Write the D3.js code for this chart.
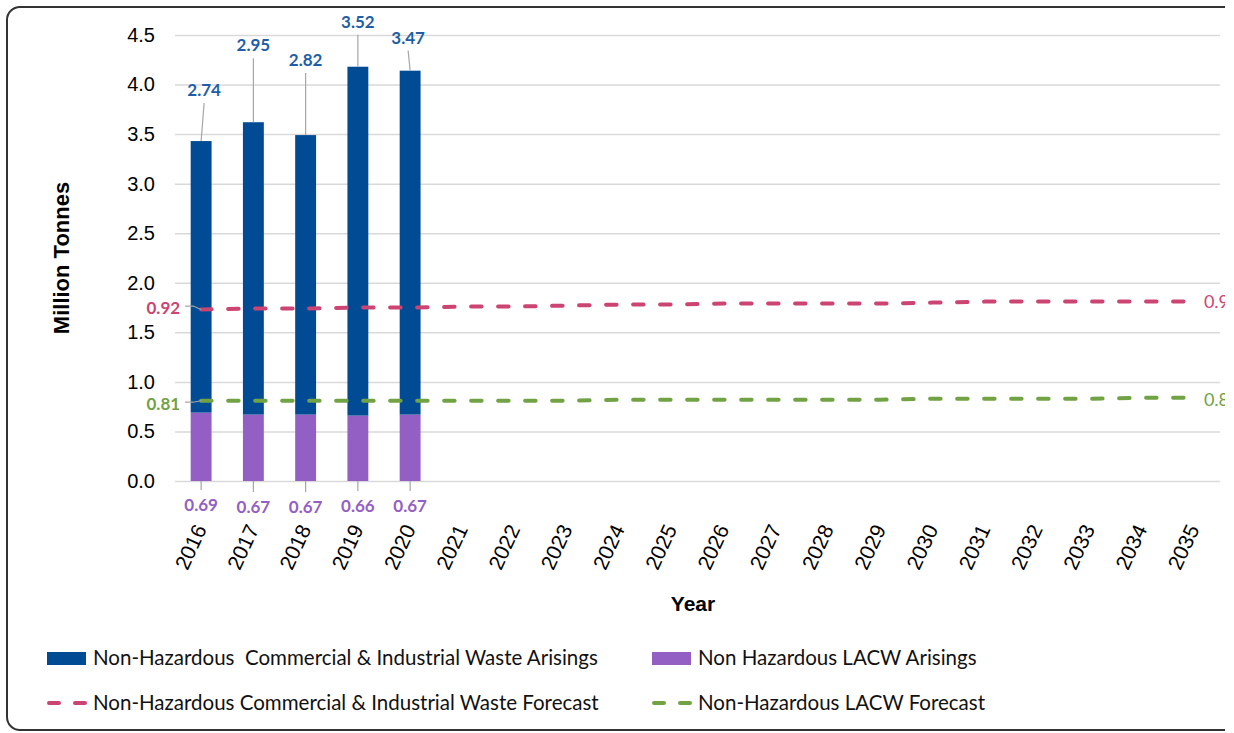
<!DOCTYPE html>
<html>
<head>
<meta charset="utf-8">
<script src="https://cdn.jsdelivr.net/npm/d3@7"></script>
<style>
    body { margin: 0; background: #fff; }
    text.pre { white-space: pre; }
</style>
</head>
<body>
<div id="canvas"></div>
<script>
/* THE DATA */
const years = ["2016", "2017", "2018", "2019", "2020", "2021", "2022", "2023", "2024", "2025",
               "2026", "2027", "2028", "2029", "2030", "2031", "2032", "2033", "2034", "2035"];
const arisingYears = ["2016", "2017", "2018", "2019", "2020"];
const ciArisings = [2.74, 2.95, 2.82, 3.52, 3.47];
const lacwArisings = [0.69, 0.67, 0.67, 0.66, 0.67];
const lacwForecast = [0.81, 0.81, 0.81, 0.81, 0.81, 0.81, 0.81, 0.81, 0.82, 0.82,
                      0.82, 0.82, 0.82, 0.82, 0.83, 0.83, 0.83, 0.83, 0.84, 0.84];
const ciForecast = [0.92, 0.93, 0.93, 0.94, 0.94, 0.95, 0.95, 0.96, 0.96, 0.96,
                    0.97, 0.97, 0.97, 0.97, 0.97, 0.98, 0.98, 0.98, 0.97, 0.97];
const yTicks = [0.0, 0.5, 1.0, 1.5, 2.0, 2.5, 3.0, 3.5, 4.0, 4.5];

/* HAND-PLACED LABEL NUDGES (pixels) */
const ciLabelLift = [51, 77, 75, 45, 33];
const ciLabelShift = [3, 0, 0, 0, -2];
const lacwLabelDrop = [24, 26, 26, 25, 25];


/* CREATE THE SVG CANVAS */
const width = 1225;
const height = 733;

const svg = d3.select("#canvas")
    .append("svg")
    .attr("width", width)
    .attr("height", height);

const blue = "#004b93";
const blueText = "#1e5ea6";
const purple = "#935fc5";
const pink = "#cc4471";
const green = "#71a244";
const grid = "#d9d9d9";
const leader = "#a6a6a6";
const labelFont = "Lato, 'Open Sans', sans-serif";
const axisFont = "'Liberation Sans', Arial, sans-serif";

// rounded frame, runs off the right edge
svg.append("rect")
    .attr("x", 7)
    .attr("y", 7)
    .attr("width", 1300)
    .attr("height", 723)
    .attr("rx", 13)
    .attr("fill", "#fff")
    .attr("stroke", "#333")
    .attr("stroke-width", 2);


/* SCALES AND AXES */
const x = d3.scaleBand()
    .domain(years)
    .range([175, 1220])
    .paddingInner(0.6)
    .paddingOuter(0.3);

const y = d3.scaleLinear()
    .domain([0, 4.5])
    .range([481, 35]);

const cx = d => x(d) + x.bandwidth() / 2;

svg.append("g")
    .attr("transform", "translate(175,0)")
    .call(d3.axisLeft(y)
        .tickValues(yTicks)
        .tickFormat(d3.format(".1f"))
        .tickSize(-1045)
        .tickPadding(20))
    .call(g => g.select(".domain").remove())
    .call(g => g.selectAll("line").attr("stroke", grid).attr("stroke-width", 1.5))
    .call(g => g.selectAll("text")
        .attr("font-family", axisFont)
        .attr("font-size", 20)
        .attr("fill", "#000"));

svg.append("g")
    .attr("transform", "translate(0,481)")
    .call(d3.axisBottom(x).tickSize(0))
    .call(g => g.select(".domain").remove())
    .call(g => g.selectAll("text")
        .attr("font-family", axisFont)
        .attr("font-size", 21)
        .attr("fill", "#000")
        .attr("x", 6)
        .attr("y", 48)
        .attr("dy", 0)
        .attr("text-anchor", "end")
        .attr("transform", "rotate(-65 6 48)"));

svg.append("text")
    .attr("transform", "translate(69,258) rotate(-90)")
    .attr("text-anchor", "middle")
    .attr("font-family", axisFont)
    .attr("font-size", 22)
    .attr("font-weight", "bold")
    .text("Million Tonnes");

svg.append("text")
    .attr("x", 693)
    .attr("y", 611)
    .attr("text-anchor", "middle")
    .attr("font-family", axisFont)
    .attr("font-size", 21)
    .attr("font-weight", "bold")
    .text("Year");


/* STACKED BARS */
svg.selectAll(".bar-lacw")
    .data(arisingYears)
    .enter()
    .append("rect")
    .attr("x", d => x(d))
    .attr("y", (d, i) => y(lacwArisings[i]))
    .attr("width", x.bandwidth())
    .attr("height", (d, i) => y(0) - y(lacwArisings[i]))
    .attr("fill", purple);

svg.selectAll(".bar-ci")
    .data(arisingYears)
    .enter()
    .append("rect")
    .attr("x", d => x(d))
    .attr("y", (d, i) => y(lacwArisings[i] + ciArisings[i]))
    .attr("width", x.bandwidth())
    .attr("height", (d, i) => y(lacwArisings[i]) - y(lacwArisings[i] + ciArisings[i]))
    .attr("fill", blue);

// value labels with leader lines
arisingYears.forEach(function(d, i) {
    let top = y(lacwArisings[i] + ciArisings[i]);
    let lx = cx(d) + ciLabelShift[i];
    let ly = top - ciLabelLift[i];

    svg.append("line")
        .attr("x1", cx(d))
        .attr("y1", top)
        .attr("x2", lx)
        .attr("y2", ly + 13)
        .attr("stroke", leader)
        .attr("stroke-width", 1.2);

    svg.append("text")
        .attr("x", lx)
        .attr("y", ly)
        .attr("dy", "0.36em")
        .attr("text-anchor", "middle")
        .attr("font-family", labelFont)
        .attr("font-weight", "bold")
        .attr("font-size", 17)
        .attr("fill", blueText)
        .text(d3.format(".2f")(ciArisings[i]));

    let by = y(0) + lacwLabelDrop[i];

    svg.append("line")
        .attr("x1", cx(d))
        .attr("y1", y(0))
        .attr("x2", cx(d))
        .attr("y2", by - 15)
        .attr("stroke", leader)
        .attr("stroke-width", 1.2);

    svg.append("text")
        .attr("x", cx(d))
        .attr("y", by)
        .attr("dy", "0.36em")
        .attr("text-anchor", "middle")
        .attr("font-family", labelFont)
        .attr("font-weight", "bold")
        .attr("font-size", 17)
        .attr("fill", purple)
        .text(d3.format(".2f")(lacwArisings[i]));
});


/* STACKED FORECAST LINES */
const forecastLine = d3.line()
    .x((d, i) => cx(years[i]))
    .y(d => y(d));

const ciTotals = ciForecast.map((v, i) => v + lacwForecast[i]);

function drawForecast(values, shown, colour, leftNudge, rightNudge) {
    svg.append("path")
        .datum(values)
        .attr("d", forecastLine)
        .attr("fill", "none")
        .attr("stroke", colour)
        .attr("stroke-width", 4)
        .attr("stroke-linecap", "round")
        .attr("stroke-dasharray", "10.5 16.5");

    let x0 = cx(years[0]);
    let y0 = y(values[0]);
    let ly = y0 + leftNudge;

    svg.append("polyline")
        .attr("points", [[x0 - 16, ly - 1.5], [x0 - 8, ly - 1.5], [x0, y0]].join(" "))
        .attr("fill", "none")
        .attr("stroke", leader)
        .attr("stroke-width", 1.2);

    svg.append("text")
        .attr("x", x0 - 21)
        .attr("y", ly)
        .attr("dy", "0.36em")
        .attr("text-anchor", "end")
        .attr("font-family", labelFont)
        .attr("font-weight", "bold")
        .attr("font-size", 17)
        .attr("fill", colour)
        .text(d3.format(".2f")(shown[0]));

    // cut by the right edge, as in the original
    let last = values.length - 1;
    svg.append("text")
        .attr("x", cx(years[last]) + 10)
        .attr("y", y(values[last]) + rightNudge)
        .attr("dy", "0.36em")
        .attr("font-family", labelFont)
        .attr("font-size", 18)
        .attr("fill", colour)
        .text(d3.format(".2f")(shown[last]));
}

drawForecast(ciTotals, ciForecast, pink, -2, 0);
drawForecast(lacwForecast, lacwForecast, green, 3, 2);


/* LEGEND */
const legend = [
    {name: "Non-Hazardous  Commercial & Industrial Waste Arisings", colour: blue, kind: "bar", x: 47, y: 658},
    {name: "Non Hazardous LACW Arisings", colour: purple, kind: "bar", x: 652, y: 658},
    {name: "Non-Hazardous Commercial & Industrial Waste Forecast", colour: pink, kind: "dash", x: 47, y: 703},
    {name: "Non-Hazardous LACW Forecast", colour: green, kind: "dash", x: 652, y: 703}
];

legend.forEach(function(d) {
    if (d.kind === "bar") {
        svg.append("rect")
            .attr("x", d.x)
            .attr("y", d.y - 6)
            .attr("width", 39)
            .attr("height", 13)
            .attr("fill", d.colour);
    } else {
        svg.append("line")
            .attr("x1", d.x + 2)
            .attr("x2", d.x + 38)
            .attr("y1", d.y)
            .attr("y2", d.y)
            .attr("stroke", d.colour)
            .attr("stroke-width", 4)
            .attr("stroke-linecap", "round")
            .attr("stroke-dasharray", "10 16");
    }

    svg.append("text")
        .attr("class", "pre")
        .attr("x", d.x + 46)
        .attr("y", d.y + 7)
        .attr("font-family", labelFont)
        .attr("font-size", 20.5)
        .attr("fill", "#111")
        .text(d.name);
});
</script>
</body>
</html>
